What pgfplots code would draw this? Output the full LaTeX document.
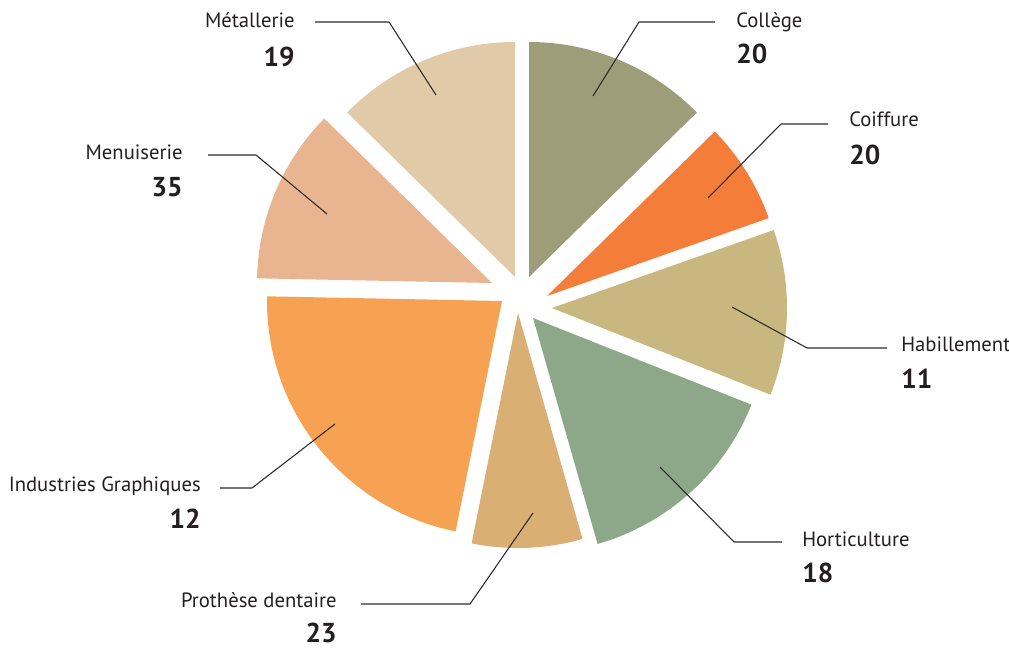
\documentclass[border=0pt]{standalone}
\usepackage{pgfplots}
\pgfplotsset{compat=1.18}
\usepackage{pgfplotstable}
\usepackage{fontspec}
\setmainfont{PT Sans}
\definecolor{slice0}{HTML}{9E9D79}
\definecolor{slice1}{HTML}{F47D3A}
\definecolor{slice2}{HTML}{C8B77E}
\definecolor{slice3}{HTML}{8DA888}
\definecolor{slice4}{HTML}{D9AF74}
\definecolor{slice5}{HTML}{F7A253}
\definecolor{slice6}{HTML}{E9B490}
\definecolor{slice7}{HTML}{E0CAA8}
\definecolor{txt}{HTML}{231F20}
\definecolor{lead}{HTML}{2B2B2B}

% slice values (clockwise from the top) and apex position of each exploded slice (px)
\pgfplotstableread{
v  ax  ay
20 529 370
11 547 351
18 552 339
23 533 329
12 518 334
35 502 346
19 492 364
20 515 370
}\slices

\newcommand\R{176.25pt}
\newcommand\lab[1]{{\fontsize{15.5}{18}\selectfont #1}}
\newcommand\num[1]{{\fontsize{20.5}{24}\selectfont\bfseries #1}}

\pgfplotstablegetrowsof{\slices}%
\pgfmathtruncatemacro\N{\pgfplotsretval-1}%
\xdef\tot{0}%
\foreach \i in {0,...,\N}{%
  \pgfplotstablegetelem{\i}{v}\of\slices
  \pgfmathsetmacro\t{\tot+\pgfplotsretval}\xdef\tot{\t}}%
\xdef\cum{90}%
\foreach \i in {0,...,\N}{%
  \pgfplotstablegetelem{\i}{v}\of\slices \let\sv\pgfplotsretval
  \pgfplotstablegetelem{\i}{ax}\of\slices \let\sax\pgfplotsretval
  \pgfplotstablegetelem{\i}{ay}\of\slices \let\say\pgfplotsretval
  \pgfmathsetmacro\aend{\cum-360*\sv/\tot}%
  \expandafter\xdef\csname sA\i\endcsname{\cum}%
  \expandafter\xdef\csname sB\i\endcsname{\aend}%
  \expandafter\xdef\csname sX\i\endcsname{\sax}%
  \expandafter\xdef\csname sY\i\endcsname{\say}%
  \xdef\cum{\aend}}%

\begin{document}%
\begin{tikzpicture}
\useasboundingbox (0,0) rectangle (756.75pt,485.25pt);
\begin{axis}[at={(0,0)}, anchor=south west,
  x=0.75pt, y=0.75pt, xmin=0, xmax=1009, ymin=0, ymax=647,
  hide axis, clip=false]
\pgfplotsinvokeforeach{0,1,2,3,4,5,6,7}{%
  \fill[slice#1] (axis cs:\csname sX#1\endcsname,\csname sY#1\endcsname)
    -- ++(\csname sA#1\endcsname:\R)
    arc[start angle=\csname sA#1\endcsname, end angle=\csname sB#1\endcsname, radius=\R]
    -- cycle;}
% leader lines
\addplot[lead, line width=0.8pt] coordinates {(436,552) (389,625) (315,625)};
\addplot[lead, line width=0.8pt] coordinates {(593,551) (639,625) (715,625)};
\addplot[lead, line width=0.8pt] coordinates {(708,449) (781,523) (828,523)};
\addplot[lead, line width=0.8pt] coordinates {(732,340) (807,299) (887,299)};
\addplot[lead, line width=0.8pt] coordinates {(660,180) (734,105) (782,105)};
\addplot[lead, line width=0.8pt] coordinates {(533,134) (470,43) (361,43)};
\addplot[lead, line width=0.8pt] coordinates {(335,223) (252,159) (220,159)};
\addplot[lead, line width=0.8pt] coordinates {(327,433) (256,492) (208,492)};
% labels
\begin{scope}[every node/.style={text=txt, inner sep=0pt}]
\node[anchor=base east] at (axis cs:295,619) {\lab{Métallerie}};
\node[anchor=base east] at (axis cs:295,580) {\num{19}};
\node[anchor=base west] at (axis cs:736,619) {\lab{Collège}};
\node[anchor=base west] at (axis cs:736,583) {\num{20}};
\node[anchor=base west] at (axis cs:849,520) {\lab{Coiffure}};
\node[anchor=base west] at (axis cs:849,482) {\num{20}};
\node[anchor=base west] at (axis cs:901,296) {\lab{Habillement}};
\node[anchor=base west] at (axis cs:901,259) {\num{11}};
\node[anchor=base west] at (axis cs:802,101) {\lab{Horticulture}};
\node[anchor=base west] at (axis cs:802,65) {\num{18}};
\node[anchor=base east] at (axis cs:337,40) {\lab{Prothèse dentaire}};
\node[anchor=base east] at (axis cs:337,5) {\num{23}};
\node[anchor=base east] at (axis cs:201,156) {\lab{Industries Graphiques}};
\node[anchor=base east] at (axis cs:201,119) {\num{12}};
\node[anchor=base east] at (axis cs:183,487) {\lab{Menuiserie}};
\node[anchor=base east] at (axis cs:183,450) {\num{35}};
\end{scope}
\end{axis}
\end{tikzpicture}%
\end{document}
